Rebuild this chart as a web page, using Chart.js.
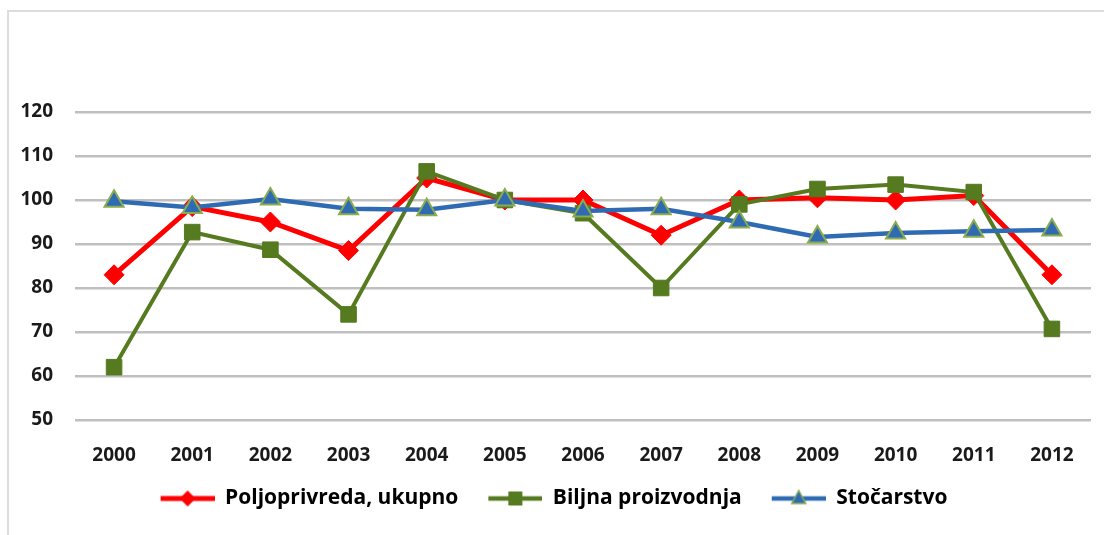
<!DOCTYPE html>
<html>
<head>
<meta charset="utf-8">
<script src="https://cdn.jsdelivr.net/npm/chart.js"></script>
<style>
  html, body { margin: 0; padding: 0; background: #fff; overflow: hidden; }
  #wrap { position: relative; width: 1104px; height: 535px; }
  #frame { position: absolute; left: 7px; top: 10px; width: 1200px; height: 600px;
           border-left: 2px solid #dcdcdc; border-top: 2px solid #dcdcdc; }
  #chart { position: absolute; left: 0; top: 0; }
</style>
</head>
<body>
<div id="wrap">
  <div id="frame"></div>
  <canvas id="chart" width="1104" height="535"></canvas>
</div>
<script>
const years = ['2000','2001','2002','2003','2004','2005','2006','2007','2008','2009','2010','2011','2012'];
const poljoprivreda = [83, 98.5, 95, 88.5, 105, 100, 100, 92, 100, 100.5, 100, 101, 83];
const biljna = [62, 92.7, 88.7, 74, 106.5, 100, 97, 80, 99, 102.5, 103.5, 101.8, 70.7];
const stocarstvo = [99.7, 98.3, 100.2, 98, 97.8, 100, 97.5, 98, 95, 91.6, 92.5, 92.9, 93.2];
const seriesNames = ['Poljoprivreda, ukupno', 'Biljna proizvodnja', 'Stočarstvo'];

const RED = '#ff0000', GREEN = '#557a1f', BLUE = '#2f6bb3', TRI_EDGE = '#8aab4f';

// little line+marker pictures for the legend
function legendIcon(color, lw, marker) {
  const c = document.createElement('canvas');
  c.width = 64; c.height = 20;
  const g = c.getContext('2d');
  g.strokeStyle = color; g.lineWidth = lw;
  g.beginPath(); g.moveTo(10, 10); g.lineTo(64, 10); g.stroke();
  const cx = 37, cy = 10;
  g.beginPath();
  if (marker === 'diamond') {
    g.fillStyle = RED;
    g.moveTo(cx - 8, cy); g.lineTo(cx, cy - 8); g.lineTo(cx + 8, cy); g.lineTo(cx, cy + 8);
    g.closePath(); g.fill();
  } else if (marker === 'square') {
    g.fillStyle = GREEN;
    g.rect(cx - 7, cy - 7, 14, 14); g.fill();
  } else {
    g.fillStyle = BLUE; g.strokeStyle = TRI_EDGE; g.lineWidth = 1.5;
    g.moveTo(cx, cy - 8); g.lineTo(cx + 7, cy + 5); g.lineTo(cx - 7, cy + 5);
    g.closePath(); g.fill(); g.stroke();
  }
  return c;
}
const icons = [legendIcon(RED, 5, 'diamond'), legendIcon(GREEN, 4.5, 'square'), legendIcon(BLUE, 4.5, 'triangle')];

const tickFont = { family: 'Open Sans', size: 19, weight: 'bold' };

new Chart(document.getElementById('chart'), {
  type: 'line',
  data: {
    labels: years,
    datasets: [
      {
        label: seriesNames[0],
        data: poljoprivreda,
        borderColor: RED,
        backgroundColor: RED,
        borderWidth: 5,
        pointStyle: 'rectRot',
        pointRadius: 10,
        pointBorderWidth: 1,
        pointBackgroundColor: RED,
        pointBorderColor: RED,
        order: 3
      },
      {
        label: seriesNames[1],
        data: biljna,
        borderColor: GREEN,
        backgroundColor: GREEN,
        borderWidth: 4,
        pointStyle: 'rect',
        pointRadius: 11,
        pointBorderWidth: 1,
        pointBackgroundColor: GREEN,
        pointBorderColor: GREEN,
        order: 2
      },
      {
        label: seriesNames[2],
        data: stocarstvo,
        borderColor: BLUE,
        backgroundColor: BLUE,
        borderWidth: 4.5,
        pointStyle: 'triangle',
        pointRadius: 11,
        pointBorderWidth: 2,
        pointBackgroundColor: BLUE,
        pointBorderColor: TRI_EDGE,
        order: 1
      }
    ]
  },
  options: {
    responsive: false,
    animation: false,
    layout: { padding: { top: 112, right: 6, bottom: 16, left: 0 } },
    scales: {
      x: {
        offset: true,
        grid: { display: false, drawTicks: false },
        border: { display: false },
        ticks: { color: '#1a1a1a', padding: 24, maxRotation: 0, autoSkip: false, font: tickFont },
        afterFit: (s) => { s.height = 48; }
      },
      y: {
        min: 50,
        max: 120,
        grid: { color: '#c0c0c0', lineWidth: 2.5, drawTicks: false },
        border: { display: false },
        ticks: { stepSize: 10, color: '#1a1a1a', padding: 22, font: tickFont },
        afterFit: (s) => { s.width = 75; }
      }
    },
    plugins: {
      tooltip: { enabled: false },
      legend: {
        position: 'bottom',
        labels: {
          usePointStyle: true,
          pointStyleWidth: 64,
          padding: 20,
          color: '#000',
          font: { family: 'Open Sans', size: 21, weight: 'bold' },
          generateLabels: (chart) => chart.data.datasets.map((ds, i) => ({
            text: ds.label,
            pointStyle: icons[i],
            fillStyle: ds.borderColor,
            strokeStyle: ds.borderColor,
            lineWidth: 0,
            fontColor: '#000',
            hidden: false,
            datasetIndex: i
          }))
        }
      }
    }
  }
});
</script>
</body>
</html>
